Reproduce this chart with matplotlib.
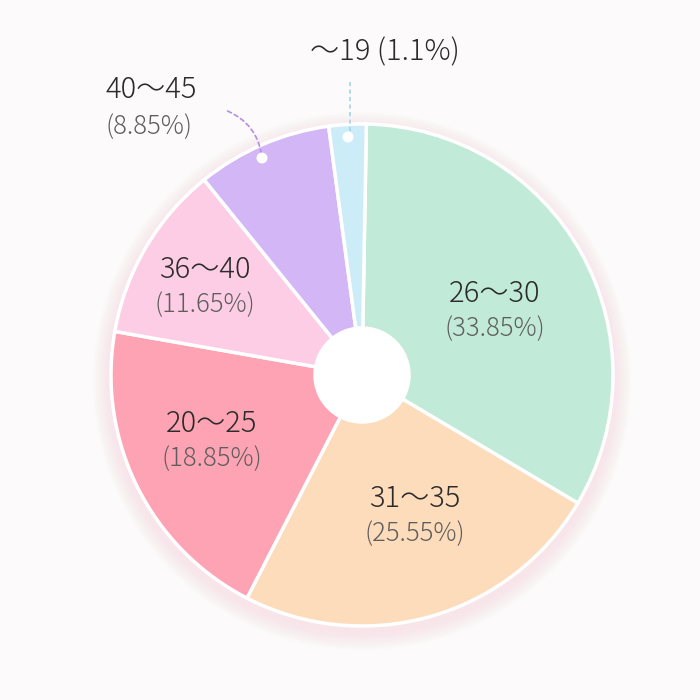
import numpy as np
import matplotlib
matplotlib.use("Agg")
from matplotlib import pyplot as plt
from matplotlib.patches import Circle, FancyArrowPatch

plt.rcParams['font.family'] = ['Noto Sans CJK JP', 'DejaVu Sans']

# --- data (clockwise from 12 o'clock) ---
groups = ['26～30', '31～35', '20～25', '36～40', '40～45', '～19']
shares = [33.85, 25.55, 18.85, 11.65, 8.85, 1.1]          # printed in the labels
arc_shares = [33.25, 24.05, 20.2, 11.4, 8.7, 2.4]         # slice sizes as drawn in the picture
colors = ['#c1ebd8', '#fddcbb', '#fda3b3', '#fdcde6', '#d3b6f6', '#ccecf8']

bg = '#fcfafa'
cx, cy, R, r_hole = 362, 325, 251, 47

fig = plt.figure(figsize=(7, 7), dpi=100, facecolor=bg)
ax = fig.add_axes([0, 0, 1, 1])

# soft pink glow behind the pie
for k in range(12, 0, -1):
    ax.add_patch(Circle((cx, cy - 6), R + k * 1.5, color='#f7cdd6', alpha=0.035, lw=0, zorder=0))

wedges, _ = ax.pie(arc_shares, colors=colors, startangle=89, counterclock=False,
                   center=(cx, cy), radius=R, frame=True,
                   wedgeprops=dict(width=R - r_hole, edgecolor='white', linewidth=2.5))
ax.set_xlim(0, 700)
ax.set_ylim(0, 700)
ax.set_aspect('equal')
ax.axis('off')
ax.add_patch(Circle((cx, cy), r_hole + 1, color='white', lw=0, zorder=5))

main_kw = dict(fontsize=21, color='#2b2b2b', fontweight='light')
sub_kw = dict(fontsize=18.5, color='#5e5e5e', fontweight='light')

# inside labels
inside = {
    '26～30': (495, 406),
    '31～35': (415, 201),
    '20～25': (212, 276),
    '36～40': (205, 430),
}
for g, s in zip(groups, shares):
    if g in inside:
        x, y = inside[g]
        ax.text(x, y, g, ha='center', va='center', zorder=6, **main_kw)
        ax.text(x, y - 35, f'({s:.2f}%)', ha='center', va='center', zorder=6, **sub_kw)

# outside labels with leader lines
i19 = groups.index('～19')
ax.text(385, 648, f'{groups[i19]} ({shares[i19]:g}%)', ha='center', va='center', **main_kw)
ax.plot([350, 350], [618, 565], ls=(0, (2.5, 2)), color='#9fd6ea', lw=1.2, zorder=6)
ax.add_patch(Circle((348, 563), 5.5, color='white', lw=0, zorder=7))

i40 = groups.index('40～45')
ax.text(106, 610, groups[i40], ha='left', va='center', **main_kw)
ax.text(106, 573, f'({shares[i40]:.2f}%)', ha='left', va='center', **sub_kw)
ax.add_patch(FancyArrowPatch((225, 590), (262, 542), connectionstyle='arc3,rad=-0.3',
                             arrowstyle='-', ls=(0, (2.5, 2)), color='#b58ce8', lw=1.2, zorder=6))
ax.add_patch(Circle((262, 542), 5.5, color='white', lw=0, zorder=7))

fig.savefig('out.png', dpi=100, facecolor=bg)
